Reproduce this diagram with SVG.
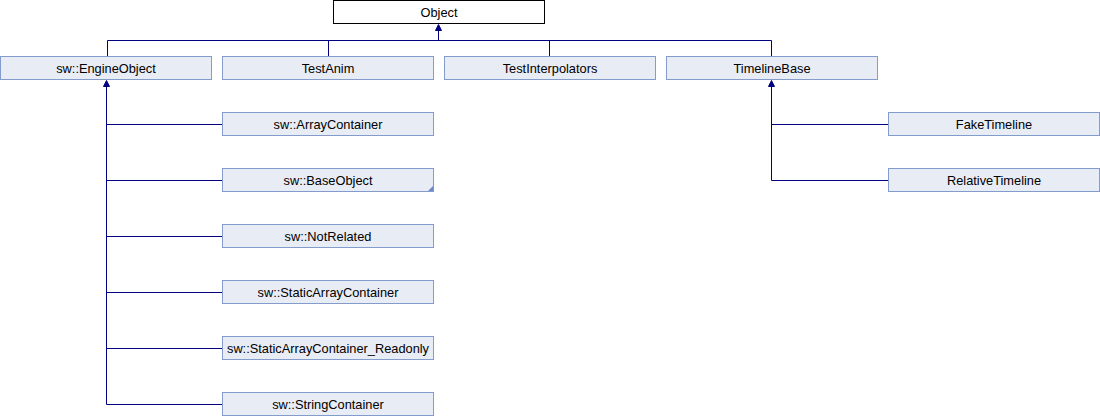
<svg xmlns="http://www.w3.org/2000/svg" width="1100" height="416" viewBox="0 0 1100 416">
<defs>
<style>
.n rect{fill:#E8ECF5;stroke:#849CCC;stroke-width:1}
.r rect{fill:#FFFFFF;stroke:#000000;stroke-width:1}
text{font-family:"Liberation Sans",Arial,sans-serif;font-size:12.8px;fill:#000;text-anchor:middle}
.c path{fill:none;stroke:#000080;stroke-width:1}
.c polygon{fill:#000080;stroke:#000080;stroke-width:1}
</style>
</defs>
<rect width="1100" height="416" fill="#FFFFFF"/>
<g class="c" id="connectors">
<path d="M438.5,30V40.5M107.5,40.5H771.5M107.5,40.5V56M328.5,40.5V56M549.5,40.5V56M771.5,40.5V56"/>
<polygon points="438.5,24.5 441.5,30.5 435.5,30.5"/>
<path d="M106.5,86V404.5H222M106.5,124.5H222M106.5,180.5H222M106.5,236.5H222M106.5,292.5H222M106.5,348.5H222"/>
<polygon points="106.5,80.5 109.5,86.5 103.5,86.5"/>
<path d="M771.5,86V180.5H888M771.5,124.5H888"/>
<polygon points="771.5,80.5 774.5,86.5 768.5,86.5"/>
</g>
<g id="Object" class="r"><rect x="333.5" y="0.5" width="211" height="23"/><text x="439" y="16.5">Object</text></g>
<g id="EngineObject" class="n"><rect x="0.5" y="56.5" width="211" height="23"/><text x="106" y="72.5">sw::EngineObject</text></g>
<g id="TestAnim" class="n"><rect x="222.5" y="56.5" width="211" height="23"/><text x="328" y="72.5">TestAnim</text></g>
<g id="TestInterpolators" class="n"><rect x="444.5" y="56.5" width="211" height="23"/><text x="550" y="72.5">TestInterpolators</text></g>
<g id="TimelineBase" class="n"><rect x="666.5" y="56.5" width="211" height="23"/><text x="772" y="72.5">TimelineBase</text></g>
<g id="ArrayContainer" class="n"><rect x="222.5" y="112.5" width="211" height="23"/><text x="328" y="128.5">sw::ArrayContainer</text></g>
<g id="BaseObject" class="n"><rect x="222.5" y="168.5" width="211" height="23"/><polygon points="433,186 433,191 428,191" fill="#6C88C8"/><text x="328" y="184.5">sw::BaseObject</text></g>
<g id="NotRelated" class="n"><rect x="222.5" y="224.5" width="211" height="23"/><text x="328" y="240.5">sw::NotRelated</text></g>
<g id="StaticArrayContainer" class="n"><rect x="222.5" y="280.5" width="211" height="23"/><text x="328" y="296.5">sw::StaticArrayContainer</text></g>
<g id="StaticArrayContainer_Readonly" class="n"><rect x="222.5" y="336.5" width="211" height="23"/><text x="328" y="352.5">sw::StaticArrayContainer_Readonly</text></g>
<g id="StringContainer" class="n"><rect x="222.5" y="392.5" width="211" height="23"/><text x="328" y="408.5">sw::StringContainer</text></g>
<g id="FakeTimeline" class="n"><rect x="888.5" y="112.5" width="211" height="23"/><text x="994" y="128.5">FakeTimeline</text></g>
<g id="RelativeTimeline" class="n"><rect x="888.5" y="168.5" width="211" height="23"/><text x="994" y="184.5">RelativeTimeline</text></g>
</svg>
